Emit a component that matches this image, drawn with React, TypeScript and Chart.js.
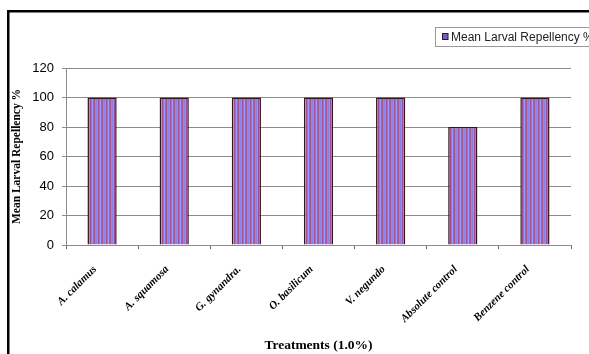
import React, { useEffect, useRef } from "react";
import { Chart, registerables } from "chart.js";

Chart.register(...registerables);

const treatments = [
  "A. calamus",
  "A. squamosa",
  "G. gynandra.",
  "O. basilicum",
  "V. negundo",
  "Absolute control",
  "Benzene control",
];
const repellency = [100, 100, 100, 100, 100, 80, 100];
const seriesLabel = "Mean Larval Repellency %";
const yTitle = "Mean Larval Repellency %";
const xTitle = "Treatments (1.0%)";

// Fine vertical pinstripes in blue, violet and wine
function makeStripes(): CanvasPattern | string {
  const c = document.createElement("canvas");
  const cols = ["#8a7ee8", "#9490f8", "#9a4f92", "#867ae4", "#9898ff", "#8a6cd0", "#a2588c", "#8e86f0"];
  c.width = cols.length;
  c.height = 4;
  const ctx = c.getContext("2d");
  if (!ctx) return "#8c7ad8";
  cols.forEach((col, i) => {
    ctx.fillStyle = col;
    ctx.fillRect(i, 0, 1, 4);
  });
  return ctx.createPattern(c, "repeat") || "#8c7ad8";
}

// Outer frame and the boxed legend in the upper right
const framePlugin = {
  id: "frameAndLegend",
  afterDraw(chart: Chart) {
    const ctx = chart.ctx;
    ctx.save();
    ctx.strokeStyle = "#000";
    ctx.lineWidth = 2.5;
    ctx.beginPath();
    ctx.moveTo(8.25, 360);
    ctx.lineTo(8.25, 11.25);
    ctx.lineTo(600, 11.25);
    ctx.stroke();

    // legend box
    ctx.lineWidth = 1;
    ctx.strokeStyle = "#9a9a9a";
    ctx.fillStyle = "#fff";
    ctx.fillRect(435.5, 27.5, 170, 19);
    ctx.strokeRect(435.5, 27.5, 170, 19);
    ctx.fillStyle = "#7a5cc0";
    ctx.fillRect(442, 33, 6, 7);
    ctx.strokeStyle = "#2a1a3a";
    ctx.strokeRect(442.5, 33.5, 5.5, 6);
    ctx.fillStyle = "#222";
    ctx.font = "12px 'Liberation Sans', Arial, sans-serif";
    ctx.textBaseline = "middle";
    ctx.textAlign = "left";
    ctx.fillText(String(chart.data.datasets[0].label), 451, 37.5);
    ctx.restore();
  },
};

export default function App() {
  const ref = useRef<HTMLCanvasElement>(null);
  useEffect(() => {
    if (!ref.current) return;
    const chart = new Chart(ref.current, {
      type: "bar",
      data: {
        labels: treatments,
        datasets: [
          {
            label: seriesLabel,
            data: repellency,
            backgroundColor: makeStripes() as any,
            borderColor: "#33141f",
            borderWidth: 1.5,
            categoryPercentage: 1,
            barPercentage: 0.405,
          },
        ],
      },
      options: {
        responsive: false,
        animation: false,
        layout: { padding: { left: 0, top: 68, right: 18, bottom: 0 } },
        plugins: {
          legend: { display: false },
          tooltip: { enabled: false },
          title: { display: false },
        },
        scales: {
          x: {
            offset: true,
            afterFit: (s: any) => {
              s.height = 109;
            },
            border: { display: true, color: "#8c8c8c", width: 1 },
            grid: {
              display: true,
              offset: true,
              drawOnChartArea: false,
              drawTicks: true,
              tickLength: 4,
              color: "#666",
            },
            ticks: {
              minRotation: 45,
              maxRotation: 45,
              padding: 14,
              labelOffset: -7,
              color: "#000",
              font: { family: "'Liberation Serif', 'Times New Roman', serif", size: 11, style: "italic", weight: "bold" },
            },
            title: {
              display: true,
              text: xTitle,
              color: "#000",
              padding: { top: 0, bottom: 0 },
              font: { family: "'Liberation Serif', 'Times New Roman', serif", size: 13.5, weight: "bold" },
            },
          },
          y: {
            min: 0,
            max: 120,
            afterFit: (s: any) => {
              s.width = 66;
            },
            border: { display: true, color: "#8c8c8c", width: 1 },
            grid: {
              color: "#8c8c8c",
              lineWidth: 1,
              drawTicks: true,
              tickLength: 4,
            },
            ticks: {
              stepSize: 20,
              padding: 8,
              color: "#000",
              font: { family: "'Liberation Sans', Arial, sans-serif", size: 13 },
            },
            title: {
              display: true,
              text: yTitle,
              color: "#000",
              padding: { top: 10, bottom: 0 },
              font: { family: "'Liberation Serif', 'Times New Roman', serif", size: 11.5, weight: "bold" },
            },
          },
        },
      },
      plugins: [framePlugin],
    });
    return () => chart.destroy();
  }, []);
  return (
    <div style={{ position: "fixed", left: 0, top: 0, width: 589, height: 354, background: "#fff" }}>
      <canvas ref={ref} width={589} height={354} />
    </div>
  );
}
